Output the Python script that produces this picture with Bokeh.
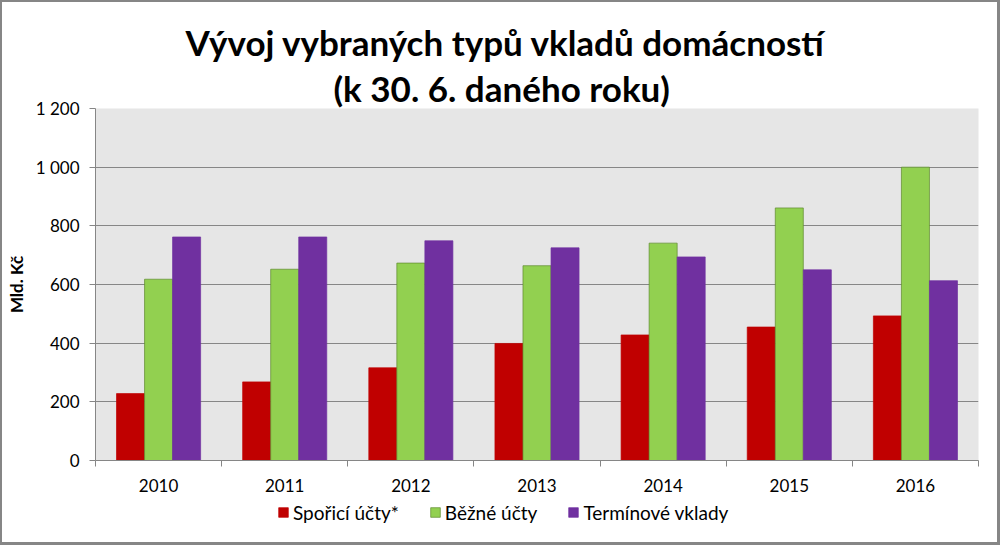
from bokeh.plotting import figure
from bokeh.layouts import column
from bokeh.models import (ColumnDataSource, FixedTicker, Range1d, Title, Legend, LegendItem,
                          LinearAxis)
from bokeh.embed import file_html
from bokeh.resources import INLINE

years = ["2010", "2011", "2012", "2013", "2014", "2015", "2016"]
sporici = [228, 268, 316, 399, 428, 455, 493]
bezne = [618, 652, 673, 664, 741, 861, 1000]
terminove = [762, 762, 749, 725, 694, 650, 613]
series_names = ["Spořicí účty*", "Běžné účty", "Termínové vklady"]
colors = ["#C00000", "#92D050", "#7030A0"]
y_ticks = [0, 200, 400, 600, 800, 1000, 1200]

FONT = "Lato"
n = len(years)
centers = [i + 0.5 for i in range(n)]

p = figure(frame_width=883, frame_height=352, output_backend="svg", toolbar_location=None,
           x_range=Range1d(0, n), y_range=Range1d(0, 1200), x_axis_location=None,
           min_border_left=93, min_border_right=19, min_border_top=106, min_border_bottom=40)
p.background_fill_color = "#E6E6E6"
p.border_fill_color = "white"
p.outline_line_color = None

bw = 1.0 / 4.5
offs = [-bw, 0, bw]
vals = [sporici, bezne, terminove]
line_cols = ["#C00000", "#5E8A2E", "#7030A0"]
for k in range(3):
    src = ColumnDataSource(dict(x=[c + offs[k] for c in centers], top=vals[k]))
    p.vbar(x="x", top="top", width=bw, bottom=0, source=src, fill_color=colors[k],
           line_color=line_cols[k], line_width=0.7)

# x axis 1: line + tick marks at category boundaries
ax1 = LinearAxis(ticker=FixedTicker(ticks=list(range(n + 1))),
                 major_label_overrides={i: "" for i in range(n + 1)},
                 major_tick_out=6, major_tick_in=0, minor_tick_line_color=None,
                 axis_line_color="#868686", major_tick_line_color="#868686",
                 major_label_text_font_size="1px", major_label_standoff=0)
p.add_layout(ax1, "below")
# x axis 2: year labels at category centres
ax2 = LinearAxis(ticker=FixedTicker(ticks=centers),
                 major_label_overrides={c: y for c, y in zip(centers, years)},
                 major_tick_out=0, major_tick_in=0, minor_tick_line_color=None,
                 axis_line_color=None, major_tick_line_color=None,
                 major_label_text_font=FONT, major_label_text_font_size="17px",
                 major_label_text_color="black", major_label_standoff=12)
p.add_layout(ax2, "below")

p.yaxis.ticker = FixedTicker(ticks=y_ticks)
p.yaxis.major_label_overrides = {v: f"{v:,}".replace(",", " ") for v in y_ticks}
p.yaxis.major_tick_out = 6
p.yaxis.major_tick_in = 0
p.yaxis.minor_tick_line_color = None
p.yaxis.axis_line_color = "#868686"
p.yaxis.major_tick_line_color = "#868686"
p.yaxis.major_label_text_font = FONT
p.yaxis.major_label_text_font_size = "17px"
p.yaxis.major_label_text_color = "black"
p.yaxis.major_label_standoff = 10
p.yaxis.axis_label = "Mld. Kč"
p.yaxis.axis_label_text_font = FONT
p.yaxis.axis_label_text_font_size = "17px"
p.yaxis.axis_label_text_font_style = "bold"
p.yaxis.axis_label_text_color = "black"
p.yaxis.axis_label_standoff = 6

p.xgrid.grid_line_color = None
p.ygrid.grid_line_color = "#868686"
p.ygrid.grid_line_width = 1

# titles
p.add_layout(Title(text="(k 30. 6. daného roku)", align="left", offset=238, text_font=FONT,
                   text_font_size="35px", text_font_style="bold", text_color="black",
                   standoff=0), "above")
p.add_layout(Title(text="Vývoj vybraných typů vkladů domácností", align="left", offset=90,
                   text_font=FONT, text_font_size="35px", text_font_style="bold",
                   text_color="black", standoff=3), "above")

# legend strip (swatch renderers sit outside the visible range)
p2 = figure(width=995, height=42, output_backend="svg", toolbar_location=None,
            x_range=Range1d(0, 1), y_range=Range1d(0, 1),
            x_axis_location=None, y_axis_location=None, min_border=0)
p2.outline_line_color = None
p2.xgrid.grid_line_color = None
p2.ygrid.grid_line_color = None
leg_rs = [p2.vbar(x=[-5], top=[0], width=0.1, fill_color=colors[k], line_color=line_cols[k],
                  line_width=0.7) for k in range(3)]
legend = Legend(items=[LegendItem(label=series_names[k], renderers=[leg_rs[k]]) for k in range(3)],
                orientation="horizontal", location=(182, 18),
                label_text_font=FONT, label_text_font_size="19px", label_text_color="black",
                glyph_width=12, glyph_height=12, label_height=24, spacing=30, label_standoff=4,
                border_line_color=None, background_fill_alpha=0, margin=0, padding=0)
p2.add_layout(legend, "center")

layout = column(p, p2, spacing=0,
                styles={"border-left": "2px solid #868686", "border-top": "2px solid #868686",
                        "border-right": "3px solid #868686", "border-bottom": "3px solid #868686"})

open("out.html", "w").write(file_html(layout, INLINE))
